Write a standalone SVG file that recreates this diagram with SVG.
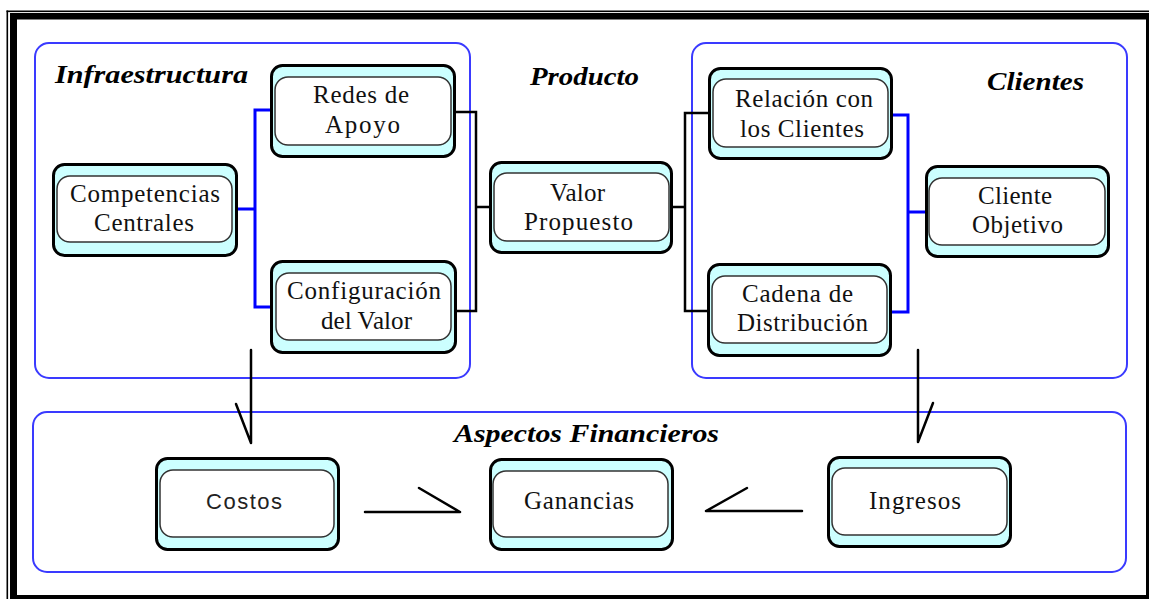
<svg xmlns="http://www.w3.org/2000/svg" width="1149" height="599" viewBox="0 0 1149 599">
<style>
.panel{fill:none;stroke:#3a3aff;stroke-width:2}
.outer{fill:#ccffff;stroke:#000;stroke-width:3}
.inner{fill:#fff;stroke:#333;stroke-width:1.5}
.t{font-family:"Liberation Serif","Times New Roman",serif;font-size:25px;fill:#111;text-anchor:middle}
.ts{font-family:"Liberation Sans",Arial,sans-serif;font-size:22px;fill:#222;text-anchor:middle}
.title{font-family:"Liberation Serif","Times New Roman",serif;font-size:25px;font-weight:bold;font-style:italic;fill:#000}
.blue{fill:none;stroke:#0000ff;stroke-width:3}
.black{fill:none;stroke:#000;stroke-width:2.5}
.arr{fill:none;stroke:#000;stroke-width:2.5;stroke-linecap:round}
</style>
<rect x="0" y="0" width="1149" height="599" fill="#fff"/>
<g id="frame">
<rect x="6.5" y="10.5" width="1.6" height="589" fill="#000"/>
<rect x="6.5" y="10.5" width="1143" height="1.6" fill="#000"/>
<rect x="10" y="13" width="7" height="586" fill="#000"/>
<rect x="10" y="13" width="1139" height="6.5" fill="#000"/>
<rect x="1146" y="13" width="3" height="586" fill="#000"/>
<rect x="10" y="595" width="1139" height="4" fill="#000"/>
</g>
<g id="panels">
<rect id="panel-infra" class="panel" x="35" y="43" width="435" height="335" rx="14"/>
<rect id="panel-clientes" class="panel" x="692" y="43" width="435" height="335" rx="14"/>
<rect id="panel-finanzas" class="panel" x="33" y="412" width="1093" height="160" rx="14"/>
</g>
<g id="titles">
<text class="title" x="55" y="83" textLength="193" lengthAdjust="spacingAndGlyphs">Infraestructura</text>
<text class="title" x="530" y="85" textLength="109" lengthAdjust="spacingAndGlyphs">Producto</text>
<text class="title" x="987" y="90" textLength="97" lengthAdjust="spacingAndGlyphs">Clientes</text>
<text class="title" x="454" y="442" font-size="24" textLength="265" lengthAdjust="spacingAndGlyphs">Aspectos Financieros</text>
</g>
<g id="connectors">
<path class="blue" d="M238,209 H255 M270,110 H255 V307 H270"/>
<path class="black" d="M455,112 H476 V311 H456 M476,207 H489"/>
<path class="black" d="M673,207 H685 M708,113 H685 V311 H707"/>
<path class="blue" d="M892,115 H908 V312 H891 M908,212 H925"/>
<path class="arr" d="M251,350 V443 M236,404 L251,443"/>
<path class="arr" d="M918,350 V442 M933,403 L918,442"/>
<path class="arr" d="M365,512 H460 M419,488 L460,512"/>
<path class="arr" d="M802,511 H706 M747,488 L706,511"/>
</g>
<g id="node-competencias">
<rect class="outer" x="53.5" y="164.5" width="183" height="91" rx="11"/>
<rect class="inner" x="57" y="176" width="175" height="66" rx="13"/>
<text class="t" x="145" y="202" textLength="150">Competencias</text>
<text class="t" x="144" y="231" textLength="100">Centrales</text>
</g>
<g id="node-redes">
<rect class="outer" x="271.5" y="65.5" width="183" height="91" rx="11"/>
<rect class="inner" x="275" y="77" width="176" height="68" rx="13"/>
<text class="t" x="361" y="103" textLength="96">Redes de</text>
<text class="t" x="362.5" y="133" textLength="75">Apoyo</text>
</g>
<g id="node-configuracion">
<rect class="outer" x="271.5" y="261.5" width="184" height="91" rx="11"/>
<rect class="inner" x="276" y="273" width="175" height="67" rx="13"/>
<text class="t" x="364" y="299" textLength="154">Configuración</text>
<text class="t" x="366.5" y="329" textLength="91">del Valor</text>
</g>
<g id="node-valor">
<rect class="outer" x="490.5" y="162.5" width="181" height="90" rx="11"/>
<rect class="inner" x="494" y="173" width="175" height="68" rx="13"/>
<text class="t" x="577.5" y="201" textLength="55">Valor</text>
<text class="t" x="578.5" y="230" textLength="109">Propuesto</text>
</g>
<g id="node-relacion">
<rect class="outer" x="709.5" y="68.5" width="182" height="90" rx="11"/>
<rect class="inner" x="713" y="79" width="175" height="68" rx="13"/>
<text class="t" x="804" y="107" textLength="138">Relación con</text>
<text class="t" x="802" y="137" textLength="124">los Clientes</text>
</g>
<g id="node-cadena">
<rect class="outer" x="708.5" y="264.5" width="182" height="91" rx="11"/>
<rect class="inner" x="712" y="276" width="175" height="67" rx="13"/>
<text class="t" x="797.5" y="302" textLength="111">Cadena de</text>
<text class="t" x="802.5" y="331" textLength="131">Distribución</text>
</g>
<g id="node-cliente">
<rect class="outer" x="926.5" y="166.5" width="182" height="90" rx="11"/>
<rect class="inner" x="929" y="178" width="176" height="67" rx="13"/>
<text class="t" x="1015" y="204" textLength="74">Cliente</text>
<text class="t" x="1017.5" y="233" textLength="91">Objetivo</text>
</g>
<g id="node-costos">
<rect class="outer" x="156.5" y="458.5" width="182" height="91" rx="11"/>
<rect class="inner" x="160" y="470" width="174" height="67" rx="13"/>
<text class="ts" x="244" y="509" textLength="76">Costos</text>
</g>
<g id="node-ganancias">
<rect class="outer" x="490.5" y="459.5" width="182" height="90" rx="11"/>
<rect class="inner" x="493" y="471" width="175" height="66" rx="13"/>
<text class="t" x="579" y="509" textLength="110">Ganancias</text>
</g>
<g id="node-ingresos">
<rect class="outer" x="828.5" y="457.5" width="182" height="89" rx="11"/>
<rect class="inner" x="832" y="468" width="175" height="67" rx="13"/>
<text class="t" x="915" y="509" textLength="92">Ingresos</text>
</g>
</svg>
